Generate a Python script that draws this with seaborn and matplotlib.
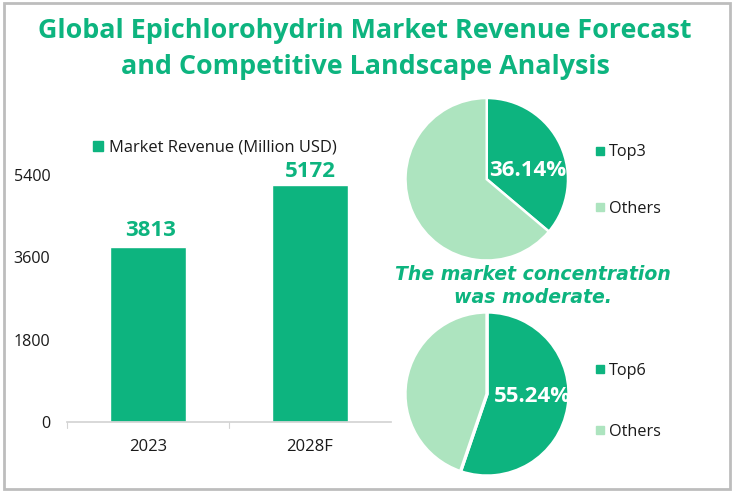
import matplotlib
matplotlib.use('Agg')
import matplotlib.pyplot as plt
import matplotlib.patches as mpatches
import seaborn as sns
import pandas as pd

# ── Data ───────────────────────────────────────────────────────────────────
years = ['2023', '2028F']
revenue = [3813, 5172]
yticks = [0, 1800, 3600, 5400]
top3_share = [36.14, 63.86]
top6_share = [55.24, 44.76]
top3_labels = ['Top3', 'Others']
top6_labels = ['Top6', 'Others']

title = 'Global Epichlorohydrin Market Revenue Forecast\nand Competitive Landscape Analysis'
note = 'The market concentration\nwas moderate.'
series_name = 'Market Revenue (Million USD)'

GREEN = '#0DB47F'
LIGHT = '#ADE4BF'
TEXT = '#1a1a1a'
W, H = 735, 494

sns.set_theme(style='white')
plt.rcParams['font.family'] = ['Open Sans', 'DejaVu Sans']

fig = plt.figure(figsize=(W / 100, H / 100), dpi=100, facecolor='white')
fig.add_artist(mpatches.Rectangle((4 / W, 1 - 489 / H), 726 / W, 486 / H, transform=fig.transFigure,
                                  fill=False, edgecolor='#bdbdbd', linewidth=2))

fig.text(365 / W, 1 - 49 / H, title, ha='center', va='center', color=GREEN, fontsize=19.4,
         fontweight='bold', linespacing=1.49)

# ── Bar chart ──────────────────────────────────────────────────────────────
ax = fig.add_axes([67 / W, 1 - 422 / H, (391 - 67) / W, (422 - 174.6) / H])
df = pd.DataFrame({'year': years, 'revenue': revenue})
sns.barplot(data=df, x='year', y='revenue', color=GREEN, saturation=1, width=0.47, ax=ax)
ax.set_yticks(yticks)
ax.set_xlabel('')
ax.set_ylabel('')
ax.tick_params(axis='y', length=0, labelsize=11.6, pad=12, labelcolor=TEXT)
ax.tick_params(axis='x', length=0, labelsize=12, pad=12.4, labelcolor=TEXT)
for s in ['top', 'right', 'left']:
    ax.spines[s].set_visible(False)
ax.spines['bottom'].set_color('#d4d4d4')
for x in [0, 0.5]:
    ax.plot([x, x], [0, -0.025], transform=ax.transAxes, color='#d4d4d4', lw=0.8, clip_on=False)
ax.set_xlim(-0.5, 1.5)
ax.set_ylim(0, 5400)
for i, (v, dx, dy) in enumerate(zip(revenue, [2, 0], [4.4, 2])):
    ax.annotate(str(v), (i, v), xytext=(dx, dy), textcoords='offset points', ha='center',
                va='bottom', color=GREEN, fontsize=16, fontweight='bold')
ax.legend(handles=[mpatches.Patch(color=GREEN, label=series_name)], loc='lower center',
          bbox_to_anchor=(0.455, 1.016), frameon=False, fontsize=11.9, handlelength=0.62,
          handleheight=0.62, handletextpad=0.35, labelcolor=TEXT)


def draw_pie(box, share, labels, text_xy, legend_y, gap):
    pax = fig.add_axes(box)
    pax.pie(share, colors=[GREEN, LIGHT], startangle=90, counterclock=False,
            radius=1.0, wedgeprops={'edgecolor': 'white', 'linewidth': gap})
    pax.set_xlim(-1, 1)
    pax.set_ylim(-1, 1)
    fig.text(text_xy[0] / W, 1 - text_xy[1] / H, f'{share[0]:.2f}%', color='white',
             fontsize=16, fontweight='bold', ha='center', va='center')
    for lab, c, y in zip(labels, [GREEN, LIGHT], legend_y):
        fig.add_artist(mpatches.Rectangle((596 / W, 1 - (y + 4) / H), 8 / W, 8 / H,
                                          transform=fig.transFigure, color=c))
        fig.text(609 / W, 1 - (y + 1.5) / H, lab, color=TEXT, fontsize=11.7, va='center')


draw_pie([405.5 / W, 1 - 260.5 / H, 162.5 / W, 162.5 / H], top3_share, top3_labels, (528, 170), (151, 207), 1.8)
draw_pie([405 / W, 1 - 476 / H, 164 / W, 164 / H], top6_share, top6_labels, (532, 396), (369, 430), 2.4)

fig.text(532.5 / W, 1 - 286 / H, note, color=GREEN, fontsize=13.6,
         fontfamily=['DejaVu Sans'], fontweight='bold', fontstyle='italic',
         ha='center', va='center', linespacing=1.3)

fig.savefig('out.png', dpi=100)
